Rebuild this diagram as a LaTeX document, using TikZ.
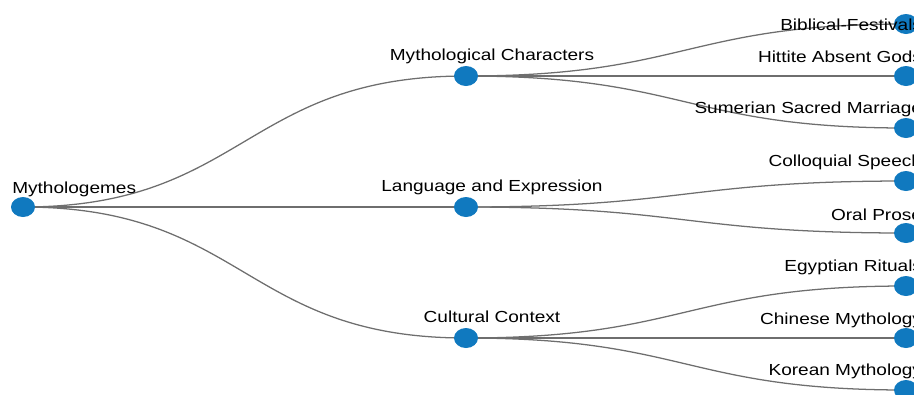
\documentclass[tikz,border=0pt]{standalone}
\usepackage{fontspec}
\setmainfont{Liberation Sans}
\newfontfamily\widefont[FakeStretch=1.19]{Liberation Sans}
\usetikzlibrary{shapes.geometric,calc,backgrounds}
\definecolor{nodeblue}{RGB}{16,121,191}
\definecolor{linkgray}{RGB}{110,110,110}
\tikzset{
  dot/.style={ellipse,fill=nodeblue,draw=none,minimum width=18pt,minimum height=15pt,inner sep=0pt},
  link/.style={draw=linkgray,line width=0.95pt},
  lbl/.style={font=\widefont\fontsize{12pt}{14pt}\selectfont,inner sep=0pt,text=black}
}
\begin{document}
\begin{tikzpicture}[x=0.75pt,y=-0.75pt]
\useasboundingbox (0,0) rectangle (914,394);
\clip (0,0) rectangle (914,394);
% nodes
\node[dot] (r) at (23,207) {};
\node[dot] (m1) at (466,76) {};
\node[dot] (m2) at (466,207) {};
\node[dot] (m3) at (466,338) {};
\node[dot] (l1) at (906,24) {};
\node[dot] (l2) at (906,76) {};
\node[dot] (l3) at (906,128) {};
\node[dot] (l4) at (906,181) {};
\node[dot] (l5) at (906,233) {};
\node[dot] (l6) at (906,286) {};
\node[dot] (l7) at (906,338) {};
\node[dot] (l8) at (906,390) {};
% connectors
\begin{scope}[on background layer]
\foreach \a/\b in {r/m1,r/m2,r/m3,m1/l1,m1/l2,m1/l3,m2/l4,m2/l5,m3/l6,m3/l7,m3/l8}{
  \draw[link] let \p1=(\a.center), \p2=(\b.center) in
    (\p1) .. controls ({(\x1+\x2)/2},\y1) and ({(\x1+\x2)/2},\y2) .. (\p2);
}
\end{scope}
% labels
\node[lbl,anchor=base west] (tr) at ($(r)+(-11,-13.7)$) {Mythologemes};
\node[lbl,anchor=base] (tm1) at ($(m1)+(26,-15.3)$) {Mythological Characters};
\node[lbl,anchor=base] (tm2) at ($(m2)+(26,-16)$) {Language and Expression};
\node[lbl,anchor=base] (tm3) at ($(m3)+(26,-15.7)$) {Cultural Context};
\node[lbl,anchor=base east] (tl1) at ($(l1)+(16.3,6)$) {Biblical-Festivals};
\node[lbl,anchor=base east] (tl2) at ($(l2)+(16.3,-13.3)$) {Hittite Absent Gods};
\node[lbl,anchor=base east] (tl3) at ($(l3)+(16.3,-14.7)$) {Sumerian Sacred Marriage};
\node[lbl,anchor=base east] (tl4) at ($(l4)+(16.3,-14.3)$) {Colloquial Speech};
\node[lbl,anchor=base east] (tl5) at ($(l5)+(16.3,-13)$) {Oral Prose};
\node[lbl,anchor=base east] (tl6) at ($(l6)+(16.3,-14.3)$) {Egyptian Rituals};
\node[lbl,anchor=base east] (tl7) at ($(l7)+(16.3,-14)$) {Chinese Mythology};
\node[lbl,anchor=base east] (tl8) at ($(l8)+(16.3,-14.3)$) {Korean Mythology};
\end{tikzpicture}
\end{document}
